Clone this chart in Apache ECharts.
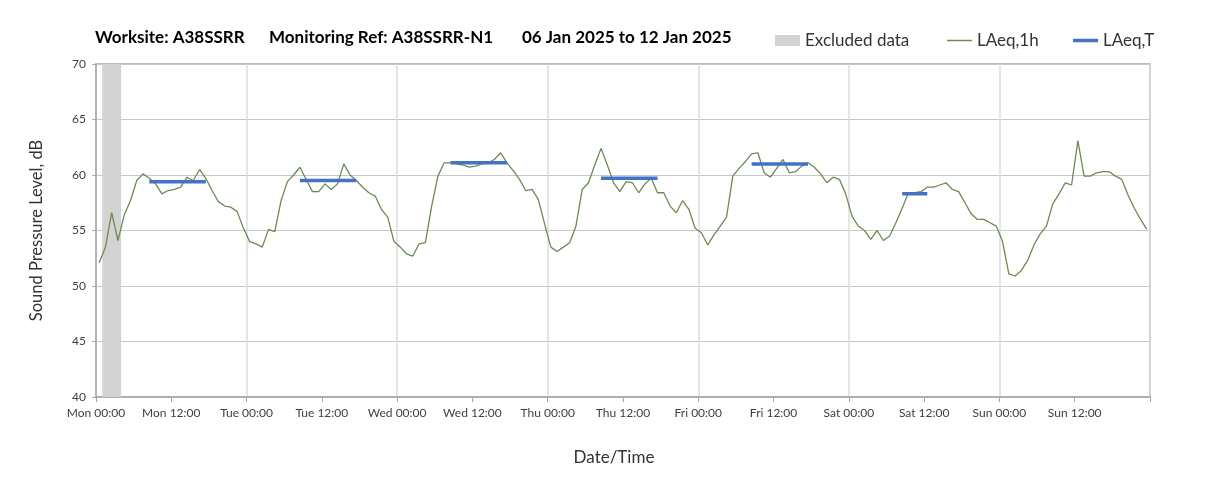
<!DOCTYPE html>
<html>
<head>
<meta charset="utf-8">
<script src="https://cdn.jsdelivr.net/npm/echarts@6/dist/echarts.min.js"></script>
<style>
  html, body { margin: 0; padding: 0; background: #ffffff; }
  #chart { width: 1208px; height: 492px; }
</style>
</head>
<body>
<div id="chart"></div>
<script>
// ---- Data ----
const xTickLabels = ['Mon 00:00', 'Mon 12:00', 'Tue 00:00', 'Tue 12:00', 'Wed 00:00', 'Wed 12:00',
  'Thu 00:00', 'Thu 12:00', 'Fri 00:00', 'Fri 12:00', 'Sat 00:00', 'Sat 12:00', 'Sun 00:00', 'Sun 12:00', ''];
const yTicks = [40, 45, 50, 55, 60, 65, 70];

// hourly LAeq,1h readings (hours from Mon 00:00), plotted at mid-hour
const hourStart = [];
for (let h = 0; h < 168; h++) hourStart.push(h);
const laeq1h = [
  52.1, 53.5, 56.6, 54.1, 56.4, 57.7, 59.5, 60.1, 59.7, 59.2, 58.3, 58.6, 58.7, 58.9, 59.8, 59.5, 60.5, 59.7, 58.6, 57.6, 57.2, 57.1, 56.7, 55.2,
  54.0, 53.8, 53.5, 55.1, 54.9, 57.7, 59.4, 60.0, 60.7, 59.6, 58.5, 58.5, 59.2, 58.7, 59.2, 61.0, 60.0, 59.5, 58.9, 58.4, 58.1, 56.9, 56.2, 54.0,
  53.5, 52.9, 52.7, 53.8, 53.9, 57.2, 59.9, 61.1, 61.1, 61.0, 60.9, 60.7, 60.8, 61.0, 61.1, 61.4, 62.0, 61.1, 60.4, 59.6, 58.6, 58.7, 57.8, 55.6,
  53.5, 53.1, 53.5, 53.9, 55.4, 58.7, 59.3, 60.9, 62.4, 60.9, 59.3, 58.5, 59.4, 59.3, 58.4, 59.2, 59.7, 58.4, 58.4, 57.2, 56.6, 57.7, 56.9, 55.2,
  54.8, 53.7, 54.6, 55.4, 56.2, 59.9, 60.6, 61.2, 61.9, 62.0, 60.2, 59.8, 60.6, 61.4, 60.2, 60.3, 60.8, 61.1, 60.7, 60.1, 59.3, 59.8, 59.6, 58.3,
  56.3, 55.4, 55.0, 54.2, 55.0, 54.1, 54.5, 55.7, 57.0, 58.4, 58.4, 58.5, 58.9, 58.9, 59.1, 59.3, 58.7, 58.5, 57.5, 56.5, 56.0, 56.0, 55.7, 55.4,
  54.0, 51.1, 50.9, 51.4, 52.3, 53.7, 54.7, 55.4, 57.4, 58.3, 59.3, 59.1, 63.1, 59.9, 59.9, 60.2, 60.3, 60.3, 59.9, 59.6, 58.2, 57.0, 56.0, 55.1
];

// LAeq,T over each working period (first and last hourly reading of the period)
const periodFirstHour = [8, 32, 56, 80, 104, 128];
const periodLastHour  = [17, 41, 65, 89, 113, 132];
const laeqT = [59.4, 59.5, 61.1, 59.7, 61.0, 58.3];

// excluded data window (hours)
const excludedFrom = 1;
const excludedTo = 4;

// ---- Build ----
const FONT = 'Lato';
const GREEN = '#6b8a55';
const BLUE = '#4472c4';
const lineData = laeq1h.map((v, i) => [hourStart[i] + 0.5, v]);

const periodSeries = laeqT.map((v, k) => ({
  name: 'LAeq,T',
  type: 'line',
  symbol: 'none',
  silent: true,
  z: 5,
  lineStyle: { color: BLUE, width: 3.5, cap: 'butt' },
  itemStyle: { color: BLUE },
  data: [[periodFirstHour[k] + 0.5, v], [periodLastHour[k] + 0.5, v]]
}));

const legendText = { fontFamily: FONT, fontSize: 17, color: '#333' };
const titleText = { fontFamily: FONT, fontSize: 17, fontWeight: 'bold', color: '#000' };

const chart = echarts.init(document.getElementById('chart'), null, { renderer: 'canvas' });

const option = {
  backgroundColor: '#ffffff',
  animation: false,
  textStyle: { fontFamily: FONT },
  title: [
    { text: 'Worksite: A38SSRR', left: 90, top: 24, textStyle: titleText },
    { text: 'Monitoring Ref: A38SSRR-N1', left: 264, top: 24, textStyle: titleText },
    { text: '06 Jan 2025 to 12 Jan 2025', left: 517, top: 24, textStyle: titleText }
  ],
  legend: [
    { left: 770, top: 27, itemWidth: 25, itemHeight: 11, textStyle: legendText,
      data: [{ name: 'Excluded data', icon: 'rect', itemStyle: { color: '#d3d3d3' } }] },
    { left: 942, top: 27, itemWidth: 25, itemHeight: 1.5, textStyle: legendText,
      data: [{ name: 'LAeq,1h', icon: 'rect', itemStyle: { color: GREEN } }] },
    { left: 1068, top: 27, itemWidth: 25, itemHeight: 3.5, textStyle: legendText,
      data: [{ name: 'LAeq,T', icon: 'rect', itemStyle: { color: BLUE } }] }
  ],
  grid: {
    left: 96, right: 58, top: 64, bottom: 95,
    show: true, borderColor: '#a8a8a8', borderWidth: 1.5, backgroundColor: 'transparent'
  },
  xAxis: [
    {
      type: 'value', min: 0, max: 168, interval: 12,
      name: 'Date/Time', nameLocation: 'middle', nameGap: 52,
      nameTextStyle: { fontFamily: FONT, fontSize: 17, color: '#333', padding: [0, 18, 0, 0] },
      axisLine: { show: true, lineStyle: { color: '#a8a8a8', width: 1.5 } },
      axisTick: { show: true, length: 5, lineStyle: { color: '#a8a8a8' } },
      axisLabel: {
        fontFamily: FONT, fontSize: 12, color: '#404040', margin: 10,
        formatter: v => xTickLabels[Math.round(v / 12)]
      },
      splitLine: { show: false }
    },
    {
      type: 'value', min: 0, max: 168, interval: 24, gridIndex: 0,
      position: 'bottom',
      axisLine: { show: false }, axisTick: { show: false }, axisLabel: { show: false },
      splitLine: { show: true, lineStyle: { color: '#dcdcdc', width: 1.5 } }
    }
  ],
  yAxis: {
    type: 'value', min: yTicks[0], max: yTicks[yTicks.length - 1], interval: 5,
    name: 'Sound Pressure Level, dB', nameLocation: 'middle', nameGap: 51,
    nameTextStyle: { fontFamily: FONT, fontSize: 16.5, color: '#333' },
    axisLine: { show: true, lineStyle: { color: '#a8a8a8', width: 1.5 } },
    axisTick: { show: true, length: 4, lineStyle: { color: '#a8a8a8' } },
    axisLabel: { fontFamily: FONT, fontSize: 12, color: '#404040', margin: 10 },
    splitLine: { show: true, lineStyle: { color: '#c8c8c8', width: 1.2 } }
  },
  series: [
    {
      name: 'Excluded data',
      type: 'line',
      data: [],
      itemStyle: { color: '#d3d3d3' },
      markArea: {
        silent: true,
        itemStyle: { color: '#d3d3d3', opacity: 1 },
        data: [[{ xAxis: excludedFrom }, { xAxis: excludedTo }]]
      },
      z: 1
    },
    {
      name: 'LAeq,1h',
      type: 'line',
      symbol: 'none',
      z: 4,
      lineStyle: { color: GREEN, width: 1.3 },
      itemStyle: { color: GREEN },
      data: lineData
    }
  ].concat(periodSeries)
};

chart.setOption(option);
</script>
</body>
</html>
